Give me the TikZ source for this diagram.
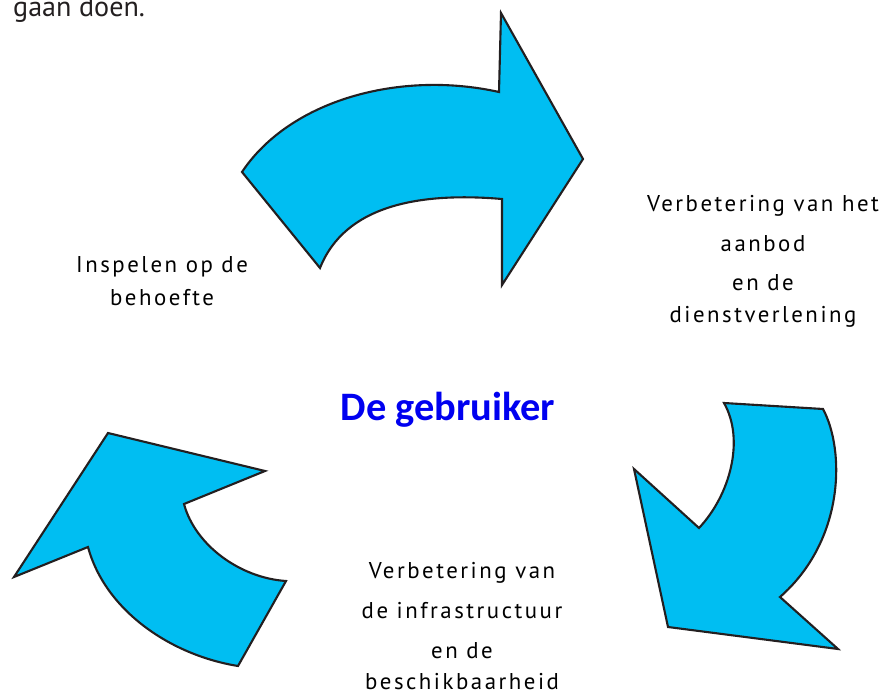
\documentclass[tikz,border=0pt]{standalone}
\usepackage{fontspec}
\usepackage{xcolor}
\usepackage{tikz}
\usetikzlibrary{positioning,calc}
\newfontfamily\labelfont{PT Sans}[LetterSpace=11]
\newfontfamily\plainfont{PT Sans}
\newfontfamily\titlefont{Carlito}
\definecolor{arrowblue}{HTML}{00BEF2}
\definecolor{edgegrey}{HTML}{231F20}
\definecolor{titleblue}{HTML}{0000F0}

\begin{document}
\begin{tikzpicture}[
    x=0.02cm, y=-0.02cm,
    bigarrow/.style={draw=edgegrey, fill=arrowblue, line width=1.2pt, line join=miter},
    label/.style={align=center, font=\labelfont\fontsize{13}{22.7}\selectfont, text=black}
]
    \useasboundingbox (0,0) rectangle (890,696);
    \clip (0,0) rectangle (890,696);

    % Top arrow
    \draw[bigarrow] (242,172) .. controls (290,100) and (400,70) .. (499,92)
        -- (501,13) -- (583,159) -- (502,285) -- (502,199)
        .. controls (420,192) and (345,205) .. (320,268) -- cycle;

    % Right arrow
    \draw[bigarrow] (724,403) -- (823,409)
        .. controls (845,450) and (845,540) .. (780,597)
        -- (838,649) -- (668,627) -- (634,469) -- (699,528)
        .. controls (730,495) and (745,440) .. (724,403) -- cycle;

    % Left arrow
    \draw[bigarrow] (108,433) -- (265,471) -- (184,504)
        .. controls (195,545) and (240,578) .. (286,581)
        -- (238,666)
        .. controls (170,655) and (105,610) .. (88,547)
        -- (14,577) -- cycle;

    % Labels
    \node[anchor=base west, font=\plainfont\fontsize{16}{18}\selectfont, text=edgegrey] (intro) at (7,17) {gaan doen.};
    \node[label] (inspelen) at (162,281) {Inspelen op de\\[-4pt]behoefte};
    \node[label] (aanbod) at (763,261) {Verbetering van het\\aanbod\\en de\\[-5pt]dienstverlening};
    \node[label] (infra) at (462,626) {Verbetering van\\de infrastructuur\\en de\\[-5pt]beschikbaarheid};
    \node[font=\titlefont\bfseries\fontsize{23}{28}\selectfont, text=titleblue] (gebruiker) at (448,410) {De gebruiker};
\end{tikzpicture}
\end{document}
